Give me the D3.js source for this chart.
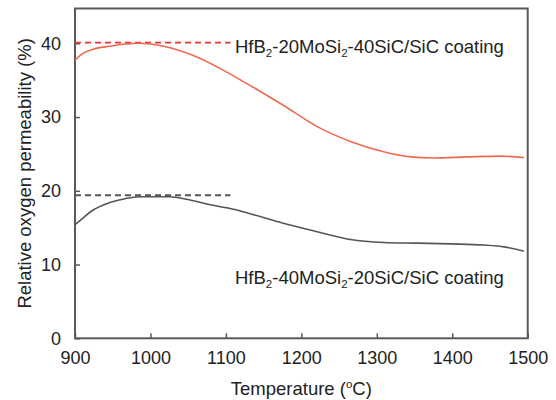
<!DOCTYPE html>
<html>
<head>
<meta charset="utf-8">
<script src="https://cdn.jsdelivr.net/npm/d3@7"></script>
<style>
  html, body { margin: 0; padding: 0; background: #fff; }
  svg { display: block; font-family: "Liberation Sans", Arial, Helvetica, sans-serif; }
</style>
</head>
<body>
<svg id="chart" width="556" height="400"></svg>
<script>
// Temperature (°C) and relative oxygen permeability (%) for the two coatings
const tempA = [900, 910, 924, 946, 968, 982, 1000, 1026, 1060, 1092, 1130, 1176, 1221, 1265, 1309, 1345, 1375, 1420, 1464, 1495];
const permA = [37.7, 38.6, 39.2, 39.6, 39.9, 40.0, 39.9, 39.4, 38.2, 36.6, 34.4, 31.6, 28.7, 26.7, 25.3, 24.6, 24.45, 24.6, 24.7, 24.5];

const tempB = [900, 907, 924, 946, 969, 991, 1026, 1048, 1079, 1110, 1132, 1176, 1221, 1265, 1309, 1354, 1398, 1442, 1469, 1495];
const permB = [15.4, 16.0, 17.4, 18.4, 19.0, 19.2, 19.2, 18.85, 18.1, 17.5, 16.9, 15.6, 14.45, 13.4, 13.0, 12.9, 12.8, 12.65, 12.4, 11.8];

// Reference levels (dashed) and their temperature span
const refLevels = [40.1, 19.4];
const refSpan = [900, 1106];

const xTicks = [900, 1000, 1100, 1200, 1300, 1400, 1500];
const yTicks = [0, 10, 20, 30, 40];

const labelA = ["HfB", "2", "-20MoSi", "2", "-40SiC/SiC coating"];
const labelB = ["HfB", "2", "-40MoSi", "2", "-20SiC/SiC coating"];

const colorA = "#ee6a50", colorARef = "#e8332e";
const colorB = "#555555", colorBRef = "#555555";
const frameColor = "#5a5a5a";

const svg = d3.select("#chart");
const L = 75, R = 527.7, T = 8.5, B = 338.3;

const x = d3.scaleLinear().domain([900, 1500]).range([L, R]);
const y = d3.scaleLinear().domain([0, 40]).range([B, 43.3]);

// Axes with inward ticks
const tickFont = 18;
const textFont = 18.5;
const xAxis = svg.append("g").attr("transform", `translate(0,${B})`)
  .call(d3.axisBottom(x).tickValues(xTicks).tickSize(-5).tickPadding(13).tickFormat(d3.format("d")));
const yAxis = svg.append("g").attr("transform", `translate(${L},0)`)
  .call(d3.axisLeft(y).tickValues(yTicks).tickSize(-5).tickPadding(14).tickFormat(d3.format("d")));
[xAxis, yAxis].forEach(g => {
  g.select(".domain").remove();
  g.selectAll(".tick line").attr("stroke", frameColor).attr("stroke-width", 1.5);
  g.selectAll(".tick text").attr("fill", "#222").attr("font-size", tickFont)
    .attr("font-family", "Liberation Sans, Arial, sans-serif");
});

// Plot frame
svg.append("rect")
  .attr("x", L).attr("y", T).attr("width", R - L).attr("height", B - T)
  .attr("fill", "none").attr("stroke", frameColor).attr("stroke-width", 2);

// Dashed reference levels
const refColors = [colorARef, colorBRef];
refLevels.forEach((v, i) => {
  svg.append("line")
    .attr("x1", x(refSpan[0])).attr("x2", x(refSpan[1]))
    .attr("y1", y(v)).attr("y2", y(v))
    .attr("stroke", refColors[i]).attr("stroke-width", 1.8)
    .attr("stroke-dasharray", "6,4");
});

// Curves
const line = d3.line().x(d => x(d[0])).y(d => y(d[1])).curve(d3.curveMonotoneX);
const seriesA = d3.zip(tempA, permA);
const seriesB = d3.zip(tempB, permB);
svg.append("path").datum(seriesA).attr("d", line)
  .attr("fill", "none").attr("stroke", colorA).attr("stroke-width", 1.6);
svg.append("path").datum(seriesB).attr("d", line)
  .attr("fill", "none").attr("stroke", colorB).attr("stroke-width", 1.6);

// Series labels with subscripts
function chemLabel(parts, px, py) {
  const t = svg.append("text").attr("x", px).attr("y", py)
    .attr("font-size", textFont).attr("fill", "#222");
  parts.forEach((p, i) => {
    const sub = i % 2 === 1;
    t.append("tspan").text(p)
      .attr("font-size", sub ? 11.5 : textFont)
      .attr("dy", sub ? 4 : (i > 0 ? -4 : 0));
  });
}
chemLabel(labelA, 235, 52.5);
chemLabel(labelB, 235, 283.5);

// Axis titles
const xt = svg.append("text").attr("x", (L + R) / 2).attr("y", 395)
  .attr("text-anchor", "middle").attr("font-size", textFont).attr("fill", "#222");
xt.append("tspan").text("Temperature (");
xt.append("tspan").text("o").attr("font-size", 11.5).attr("dy", -7);
xt.append("tspan").text("C)").attr("dy", 7);

svg.append("text")
  .attr("transform", `translate(31,${(T + B) / 2}) rotate(-90)`)
  .attr("text-anchor", "middle").attr("font-size", textFont).attr("fill", "#222")
  .text("Relative oxygen permeability (%)");
</script>
</body>
</html>
